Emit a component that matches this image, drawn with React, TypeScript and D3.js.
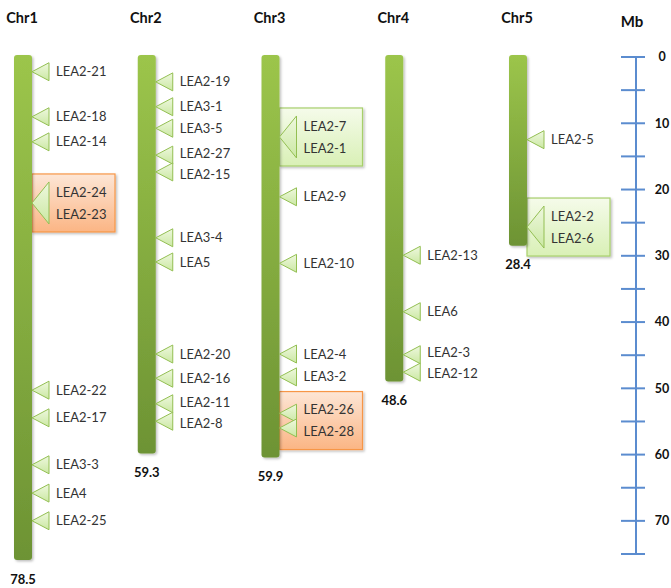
import React from "react";
import * as d3 from "d3";

// ---------- data ----------
const chromosomes = ["Chr1", "Chr2", "Chr3", "Chr4", "Chr5"];
const chromLengths = [78.5, 59.3, 59.9, 48.6, 28.4];

const geneNames = [
  "LEA2-21", "LEA2-18", "LEA2-14", "LEA2-22", "LEA2-17", "LEA3-3", "LEA4", "LEA2-25",
  "LEA2-19", "LEA3-1", "LEA3-5", "LEA2-27", "LEA2-15", "LEA3-4", "LEA5", "LEA2-20", "LEA2-16", "LEA2-11", "LEA2-8",
  "LEA2-9", "LEA2-10", "LEA2-4", "LEA3-2",
  "LEA2-13", "LEA6", "LEA2-3", "LEA2-12",
  "LEA2-5",
];
const geneChrom = [
  "Chr1", "Chr1", "Chr1", "Chr1", "Chr1", "Chr1", "Chr1", "Chr1",
  "Chr2", "Chr2", "Chr2", "Chr2", "Chr2", "Chr2", "Chr2", "Chr2", "Chr2", "Chr2", "Chr2",
  "Chr3", "Chr3", "Chr3", "Chr3",
  "Chr4", "Chr4", "Chr4", "Chr4",
  "Chr5",
];
const genePos = [
  2.6, 9.6, 13.5, 52.1, 56.4, 63.7, 68.1, 72.4,
  4.0, 7.7, 10.9, 14.9, 17.4, 27.2, 30.8, 44.5, 48.1, 51.9, 54.5,
  21.1, 31.0, 44.5, 47.9,
  29.8, 38.2, 44.6, 47.2,
  12.6,
];

// gene clusters shown in boxes
const clusterChrom = ["Chr1", "Chr3", "Chr3", "Chr5"];
const clusterGenes = [
  ["LEA2-24", "LEA2-23"],
  ["LEA2-7", "LEA2-1"],
  ["LEA2-26", "LEA2-28"],
  ["LEA2-2", "LEA2-6"],
];
const clusterPos = [[23.0], [12.2], [53.3, 55.5], [25.6]];
const clusterKind = ["orange", "green", "orange", "green"];

const axisMax = 75;
const axisLabelStep = 10;

// ---------- layout ----------
const W = 671;
const H = 588;
const barTop = 55;
const pxPerMb = 6.72;
const maxBottom = 560;
const barW = 18;
const triW = 17;
const triH = 9;
const bigTriH = 21;
const labelGap = 24;
const minLabelSpacing = 21;
const boxW = 83;
const boxHalf = 29;

const xScale = d3.scalePoint<string>().domain(chromosomes).range([23, 518]);
const chrScale = (i: number) =>
  d3
    .scaleLinear()
    .domain([0, chromLengths[i]])
    .range([barTop, Math.min(barTop + chromLengths[i] * pxPerMb, maxBottom)]);
const axisScale = d3.scaleLinear().domain([0, axisMax]).range([57, 554]);
const axisX = 636;

function spread(ys: number[], gap: number) {
  const out = ys.slice();
  for (let it = 0; it < 50; it++) {
    for (let i = 1; i < out.length; i++) {
      const d = out[i] - out[i - 1];
      if (d < gap) {
        const m = (gap - d) / 2;
        out[i - 1] -= m;
        out[i] += m;
      }
    }
  }
  return out;
}

const FONT = "Lato, 'Open Sans', sans-serif";

export default function App() {
  const tri = (x: number, y: number, h: number) =>
    `M${x},${y}L${x + triW},${y - h}L${x + triW},${y + h}Z`;

  return (
    <svg
      width={W}
      height={H}
      style={{ position: "absolute", left: 0, top: 0, background: "#fff" }}
      fontFamily={FONT}
    >
      <defs>
        <linearGradient id="barGrad" x1="0" y1="0" x2="0" y2="1">
          <stop offset="0%" stopColor="#9cc54b" />
          <stop offset="100%" stopColor="#6d9334" />
        </linearGradient>
        <linearGradient id="triGrad" x1="0" y1="0" x2="0" y2="1">
          <stop offset="0%" stopColor="#eef8de" />
          <stop offset="100%" stopColor="#cbe8a3" />
        </linearGradient>
        <linearGradient id="greenBox" x1="0" y1="0" x2="0" y2="1">
          <stop offset="0%" stopColor="#f5fbea" />
          <stop offset="100%" stopColor="#d9f0b6" />
        </linearGradient>
        <linearGradient id="orangeBox" x1="0" y1="0" x2="0" y2="1">
          <stop offset="0%" stopColor="#fde6d6" />
          <stop offset="100%" stopColor="#fbb584" />
        </linearGradient>
        <filter id="shadow" x="-20%" y="-20%" width="140%" height="140%">
          <feDropShadow dx="1.5" dy="1.5" stdDeviation="1.2" floodColor="#000" floodOpacity="0.25" />
        </filter>
      </defs>

      {/* chromosome titles */}
      {chromosomes.map((c) => (
        <text
          key={"t" + c}
          x={(xScale(c) as number) - 1}
          y={18}
          textAnchor="middle"
          dy="0.35em"
          fontWeight="bold"
          fontSize={14.5}
          fill="#111"
        >
          {c}
        </text>
      ))}
      <text x={632} y={22} textAnchor="middle" dy="0.35em" fontWeight="bold" fontSize={15} fill="#111">
        Mb
      </text>

      {/* cluster boxes */}
      {clusterChrom.map((c, k) => {
        const i = chromosomes.indexOf(c);
        const ys = chrScale(i);
        const cx = (xScale(c) as number) + barW / 2;
        const center = d3.mean(clusterPos[k].map((p) => ys(p))) as number;
        const orange = clusterKind[k] === "orange";
        return (
          <rect
            key={"box" + k}
            x={cx}
            y={center - boxHalf}
            width={boxW}
            height={boxHalf * 2}
            fill={orange ? "url(#orangeBox)" : "url(#greenBox)"}
            stroke={orange ? "#f79646" : "#a7cf6b"}
            strokeWidth={1.2}
            filter="url(#shadow)"
          />
        );
      })}

      {/* chromosome bars */}
      {chromosomes.map((c, i) => {
        const ys = chrScale(i);
        const x = (xScale(c) as number) - barW / 2;
        return (
          <g key={"bar" + c}>
            <rect
              x={x}
              y={ys(0)}
              width={barW}
              height={ys(chromLengths[i]) - ys(0)}
              rx={3}
              fill="url(#barGrad)"
              filter="url(#shadow)"
            />
            <text
              x={xScale(c) as number}
              y={ys(chromLengths[i]) + 19}
              dy="0.35em"
              textAnchor="middle"
              fontWeight="bold"
              fontSize={13}
              fill="#111"
            >
              {chromLengths[i].toFixed(1)}
            </text>
          </g>
        );
      })}

      {/* single gene markers */}
      {chromosomes.map((c, i) => {
        const ys = chrScale(i);
        const bx = (xScale(c) as number) + barW / 2;
        const idx = geneNames
          .map((_, j) => j)
          .filter((j) => geneChrom[j] === c)
          .sort((a, b) => genePos[a] - genePos[b]);
        const ty = idx.map((j) => ys(genePos[j]));
        const ly = spread(ty, minLabelSpacing);
        return (
          <g key={"m" + c}>
            {idx.map((j, n) => (
              <g key={geneNames[j]}>
                <path d={tri(bx, ty[n], triH)} fill="url(#triGrad)" stroke="#93bf52" strokeWidth={1} />
                <text x={bx + labelGap} y={ly[n]} dy="0.35em" fontSize={13} fill="#333">
                  {geneNames[j]}
                </text>
              </g>
            ))}
          </g>
        );
      })}

      {/* cluster markers */}
      {clusterChrom.map((c, k) => {
        const i = chromosomes.indexOf(c);
        const ys = chrScale(i);
        const bx = (xScale(c) as number) + barW / 2;
        const tys = clusterPos[k].map((p) => ys(p));
        const center = d3.mean(tys) as number;
        const single = tys.length === 1;
        return (
          <g key={"cl" + k}>
            {tys.map((y, n) => (
              <path
                key={n}
                d={tri(bx, y, single ? bigTriH : triH)}
                fill="url(#triGrad)"
                stroke="#93bf52"
                strokeWidth={1}
              />
            ))}
            {clusterGenes[k].map((g, n) => (
              <text
                key={g}
                x={bx + labelGap}
                y={center + (n - (clusterGenes[k].length - 1) / 2) * 22}
                dy="0.35em"
                fontSize={13}
                fill="#333"
              >
                {g}
              </text>
            ))}
          </g>
        );
      })}

      {/* Mb axis */}
      <g>
        <line x1={axisX} x2={axisX} y1={axisScale(0)} y2={axisScale(axisMax)} stroke="#5b8ccf" strokeWidth={2} />
        {axisScale.ticks(axisMax / 5).map((t) => (
          <g key={"tk" + t}>
            <line
              x1={axisX - 15}
              x2={axisX + 9}
              y1={axisScale(t)}
              y2={axisScale(t)}
              stroke="#5b8ccf"
              strokeWidth={2}
            />
            {t % axisLabelStep === 0 && t < axisMax ? (
              <text
                x={662}
                y={axisScale(t)}
                dy="0.35em"
                textAnchor="middle"
                fontWeight="bold"
                fontSize={12.5}
                fill="#111"
              >
                {t}
              </text>
            ) : null}
          </g>
        ))}
      </g>
    </svg>
  );
}
